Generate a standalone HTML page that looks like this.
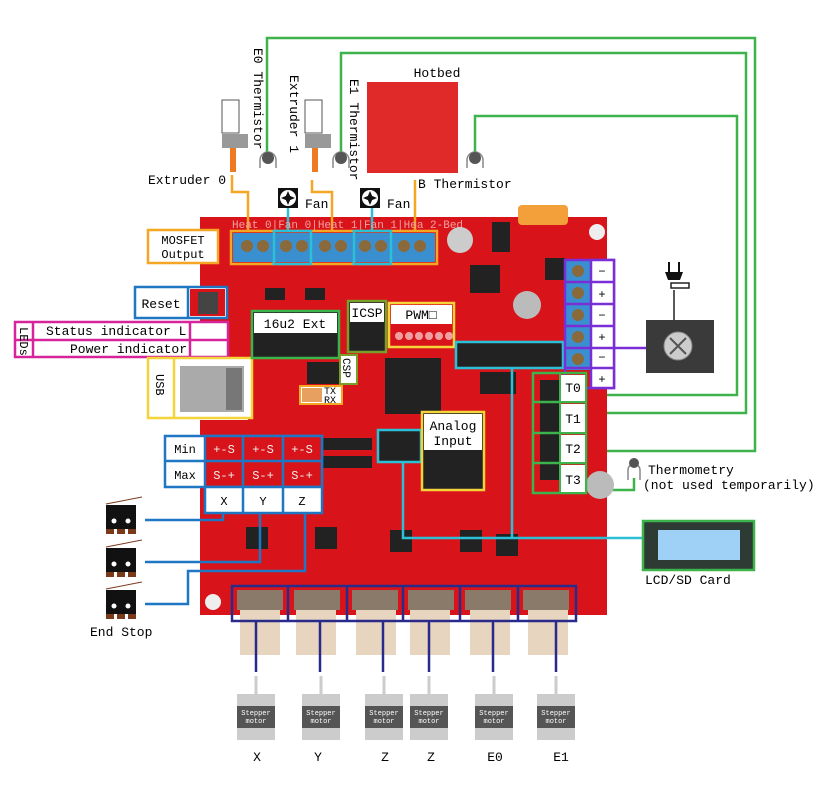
<!DOCTYPE html>
<html><head><meta charset="utf-8"><style>
html,body{margin:0;padding:0;background:#fff;}
svg{display:block;}
text{font-family:"Liberation Mono","DejaVu Sans Mono",monospace;}
</style></head><body>
<svg width="817" height="790" viewBox="0 0 817 790" xmlns="http://www.w3.org/2000/svg">
<rect width="817" height="790" fill="#fff"/>
<!-- green thermistor lines -->
<g stroke="#3cb44b" stroke-width="2.5" fill="none">
<polyline points="267,155 267,38 755,38 755,451 586,451"/>
<polyline points="341,155 341,53 746,53 746,413 586,413"/>
<polyline points="475,155 475,116 737,116 737,395 586,395"/>
<polyline points="586,490 634,490 634,478"/>
</g>
<!-- thermistors -->
<g fill="#555"><path d="M260,168 v-8 a8,8 0 0 1 16,0 v8" stroke="#888" stroke-width="1.5" fill="none"/><circle cx="268" cy="158" r="6"/>
<path d="M333,168 v-8 a8,8 0 0 1 16,0 v8" stroke="#888" stroke-width="1.5" fill="none"/><circle cx="341" cy="158" r="6"/>
<path d="M467,168 v-8 a8,8 0 0 1 16,0 v8" stroke="#888" stroke-width="1.5" fill="none"/><circle cx="475" cy="158" r="6"/>
<path d="M628,480 v-10 a6,6 0 0 1 12,0 v10" stroke="#888" stroke-width="1.5" fill="none"/><circle cx="634" cy="463" r="5"/></g>
<!-- extruders -->
<g><rect x="222" y="100" width="17" height="33" fill="#fff" stroke="#555"/><rect x="222" y="134" width="26" height="14" fill="#999"/><rect x="230" y="148" width="6" height="24" fill="#ee7a24"/>
<rect x="305" y="100" width="17" height="33" fill="#fff" stroke="#555"/><rect x="305" y="134" width="26" height="14" fill="#999"/><rect x="312" y="148" width="6" height="24" fill="#ee7a24"/></g>
<!-- hotbed -->
<rect x="367" y="82" width="91" height="91" fill="#e02a2a"/>
<text x="437" y="77" font-size="13" text-anchor="middle">Hotbed</text>
<text x="148" y="184" font-size="13">Extruder 0</text>
<text x="418" y="188" font-size="13">B Thermistor</text>
<text font-size="13" transform="translate(254,48) rotate(90)">E0 Thermistor</text>
<text font-size="13" transform="translate(290,75) rotate(90)">Extruder 1</text>
<text font-size="13" transform="translate(350,79) rotate(90)">E1 Thermistor</text>
<!-- fans -->
<rect x="278" y="188" width="20" height="20" fill="#111"/><circle cx="288" cy="198" r="8" fill="#fff"/><path d="M288,191 l3,7 l-3,7 l-3,-7z M281,198 l7,-3 l7,3 l-7,3z" fill="#111"/>
<text x="305" y="208" font-size="13">Fan</text>
<rect x="360" y="188" width="20" height="20" fill="#111"/><circle cx="370" cy="198" r="8" fill="#fff"/><path d="M370,191 l3,7 l-3,7 l-3,-7z M363,198 l7,-3 l7,3 l-7,3z" fill="#111"/>
<text x="387" y="208" font-size="13">Fan</text>
<!-- board -->
<path d="M200,217 H607 V615 H200 V420 H248 V360 H200 Z" fill="#d8141a"/>
<rect x="200" y="280" width="30" height="80" fill="#d8141a"/>
<!-- orange lines -->
<g stroke="#f5a623" stroke-width="2.5" fill="none"><polyline points="232,175 232,192 248,192 248,232"/><polyline points="312,180 312,192 332,192 332,232"/><polyline points="415,180 415,232"/></g>
<line x1="288" y1="208" x2="288" y2="232" stroke="#2bc0d6" stroke-width="2.5"/><line x1="372" y1="208" x2="372" y2="232" stroke="#2bc0d6" stroke-width="2.5"/>
<text x="232" y="228" font-size="11" fill="#f4a0a0">Heat 0|Fan 0|Heat 1|Fan 1|Hea 2-Bed</text>
<!-- terminal blocks -->
<rect x="233" y="233" width="202" height="29" fill="#3a8fd0"/>
<g fill="#8a6a3a"><circle cx="247" cy="246" r="6"/><circle cx="263" cy="246" r="6"/><circle cx="286" cy="246" r="6"/><circle cx="302" cy="246" r="6"/><circle cx="325" cy="246" r="6"/><circle cx="341" cy="246" r="6"/><circle cx="365" cy="246" r="6"/><circle cx="381" cy="246" r="6"/><circle cx="404" cy="246" r="6"/><circle cx="420" cy="246" r="6"/></g>
<g fill="none" stroke-width="2.5">
<rect x="231" y="231" width="206" height="33" stroke="#f5a623"/>
<rect x="274" y="231" width="37" height="33" stroke="#2bc0d6"/>
<rect x="354" y="231" width="37" height="33" stroke="#2bc0d6"/>
</g>
<rect x="148" y="230" width="70" height="33" fill="#fff" stroke="#f5a623" stroke-width="2.5"/>
<text x="183" y="244" font-size="12" text-anchor="middle">MOSFET</text><text x="183" y="258" font-size="12" text-anchor="middle">Output</text>
<!-- board details -->
<g fill="#222"><rect x="385" y="358" width="56" height="56"/><rect x="470" y="265" width="30" height="28"/><rect x="312" y="385" width="0" height="0"/><rect x="305" y="288" width="20" height="12"/><rect x="265" y="288" width="20" height="12"/>
<rect x="496" y="534" width="22" height="22"/><rect x="315" y="527" width="22" height="22"/><rect x="246" y="527" width="22" height="22"/><rect x="390" y="530" width="22" height="22"/><rect x="460" y="530" width="22" height="22"/><rect x="480" y="372" width="36" height="22"/><rect x="540" y="380" width="20" height="100"/><rect x="322" y="438" width="50" height="12"/><rect x="322" y="456" width="50" height="12"/><rect x="545" y="258" width="20" height="22"/><rect x="492" y="222" width="18" height="30"/></g>
<circle cx="460" cy="240" r="13" fill="#ccc"/><circle cx="527" cy="305" r="14" fill="#bbb"/><circle cx="600" cy="485" r="14" fill="#bbb"/>
<rect x="518" y="205" width="50" height="20" fill="#f3a03a" rx="4"/>
<circle cx="213" cy="602" r="8" fill="#eee"/><circle cx="597" cy="232" r="8" fill="#eee"/>
<!-- Reset -->
<rect x="135" y="287" width="92" height="31" fill="#fff" stroke="#1f77c4" stroke-width="2.5"/>
<rect x="190" y="289" width="35" height="27" fill="#d8141a"/><rect x="198" y="292" width="20" height="22" fill="#444"/>
<line x1="188" y1="287" x2="188" y2="318" stroke="#1f77c4" stroke-width="2.5"/>
<text x="161" y="308" font-size="13" text-anchor="middle">Reset</text>
<!-- LEDs -->
<rect x="15" y="322" width="213" height="35" fill="#fff" stroke="#d6249a" stroke-width="2.5"/>
<line x1="15" y1="340" x2="228" y2="340" stroke="#d6249a" stroke-width="2.5"/>
<line x1="33" y1="322" x2="33" y2="357" stroke="#d6249a" stroke-width="2.5"/>
<line x1="190" y1="322" x2="190" y2="357" stroke="#d6249a" stroke-width="2.5"/>
<text font-size="12" transform="translate(20,327) rotate(90)">LEDs</text>
<text x="46" y="335" font-size="13">Status indicator L</text>
<text x="70" y="353" font-size="13">Power indicator</text>
<!-- USB -->
<rect x="148" y="358" width="104" height="60" fill="#fff" stroke="#f5d33a" stroke-width="2.5"/>
<line x1="174" y1="358" x2="174" y2="418" stroke="#f5d33a" stroke-width="2.5"/>
<rect x="180" y="366" width="64" height="46" fill="#aaa"/><rect x="226" y="368" width="16" height="42" fill="#777"/>
<text font-size="12" transform="translate(156,374) rotate(90)">USB</text>
<!-- 16u2 -->
<rect x="252" y="311" width="87" height="47" fill="#222" stroke="#3cb44b" stroke-width="2.5"/>
<rect x="254" y="313" width="83" height="20" fill="#fff"/>
<text x="295" y="328" font-size="13" text-anchor="middle">16u2 Ext</text>
<!-- ICSP -->
<rect x="348" y="301" width="38" height="51" fill="#222" stroke="#7a9e2a" stroke-width="2.5"/>
<rect x="350" y="303" width="34" height="19" fill="#fff"/><text x="367" y="317" font-size="13" text-anchor="middle">ICSP</text>
<rect x="307" y="362" width="33" height="22" fill="#222"/>
<rect x="340" y="355" width="17" height="29" fill="#fff" stroke="#7a9e2a" stroke-width="2"/>
<text font-size="11" transform="translate(343,358) rotate(90)">CSP</text>
<!-- TX RX -->
<rect x="300" y="386" width="42" height="18" fill="#fff" stroke="#f5a623" stroke-width="2"/>
<rect x="302" y="388" width="20" height="14" fill="#e8a060"/>
<text x="324" y="394" font-size="10">TX</text><text x="324" y="403" font-size="10">RX</text>
<!-- PWM -->
<rect x="389" y="303" width="65" height="44" fill="#d8141a" stroke="#f5d33a" stroke-width="2.5"/>
<rect x="391" y="305" width="61" height="19" fill="#fff"/><text x="421" y="319" font-size="13" text-anchor="middle">PWM□</text>
<g fill="#f0a0a0"><circle cx="399" cy="336" r="4"/><circle cx="409" cy="336" r="4"/><circle cx="419" cy="336" r="4"/><circle cx="429" cy="336" r="4"/><circle cx="439" cy="336" r="4"/><circle cx="449" cy="336" r="4"/></g>
<!-- cyan -->
<rect x="456" y="342" width="107" height="26" fill="#222" stroke="#2bc0d6" stroke-width="2.5"/>
<rect x="378" y="430" width="43" height="32" fill="#222" stroke="#2bc0d6" stroke-width="2.5"/>
<g stroke="#2bc0d6" stroke-width="2.5" fill="none"><polyline points="512,368 512,538"/><polyline points="403,462 403,538 643,538"/></g>
<!-- Analog -->
<rect x="422" y="412" width="62" height="78" fill="#222" stroke="#f5d33a" stroke-width="2.5"/>
<rect x="424" y="414" width="58" height="36" fill="#fff"/>
<text x="453" y="430" font-size="13" text-anchor="middle">Analog</text><text x="453" y="445" font-size="13" text-anchor="middle">Input</text>
<!-- power terminals -->
<rect x="565" y="260" width="26" height="110" fill="#3a8fd0"/>
<g fill="#8a6a3a"><circle cx="578" cy="271" r="6"/><circle cx="578" cy="293" r="6"/><circle cx="578" cy="315" r="6"/><circle cx="578" cy="337" r="6"/><circle cx="578" cy="359" r="6"/></g>
<rect x="565" y="260" width="49" height="128" fill="none" stroke="#7a2ed6" stroke-width="2.5"/>
<rect x="591" y="260" width="23" height="128" fill="#fff" stroke="#7a2ed6" stroke-width="2.5"/>
<g stroke="#7a2ed6" stroke-width="2.5"><line x1="565" y1="282" x2="614" y2="282"/><line x1="565" y1="304" x2="614" y2="304"/><line x1="565" y1="326" x2="614" y2="326"/><line x1="565" y1="348" x2="614" y2="348"/><line x1="565" y1="368" x2="614" y2="368"/><line x1="614" y1="348" x2="646" y2="348"/></g>
<g font-size="12" text-anchor="middle"><text x="602" y="275">−</text><text x="602" y="298">+</text><text x="602" y="319">−</text><text x="602" y="341">+</text><text x="602" y="361">−</text><text x="602" y="383">+</text></g>
<rect x="646" y="320" width="68" height="53" fill="#3a3a3a"/><circle cx="678" cy="346" r="14" fill="#ccc" stroke="#888"/><path d="M670,338 l16,16 M686,338 l-16,16" stroke="#555" stroke-width="2"/>
<line x1="674" y1="320" x2="674" y2="290" stroke="#222" stroke-width="1.5"/><rect x="671" y="283" width="18" height="5" fill="none" stroke="#222" stroke-width="1.5"/><path d="M665,272 h18 l-3,8 h-12z" fill="#111"/><line x1="669" y1="262" x2="669" y2="272" stroke="#111" stroke-width="2"/><line x1="679" y1="262" x2="679" y2="272" stroke="#111" stroke-width="2"/>
<!-- T0-T3 -->
<g stroke="#3cb44b" stroke-width="2.5"><rect x="533" y="373" width="53" height="120" fill="none"/><line x1="533" y1="402" x2="586" y2="402"/><line x1="533" y1="433" x2="586" y2="433"/><line x1="533" y1="463" x2="586" y2="463"/></g>
<g fill="#fff"><rect x="561" y="375" width="24" height="26"/><rect x="561" y="404" width="24" height="28"/><rect x="561" y="435" width="24" height="27"/><rect x="561" y="465" width="24" height="27"/></g>
<line x1="560" y1="373" x2="560" y2="493" stroke="#3cb44b" stroke-width="2"/>
<g font-size="13" text-anchor="middle"><text x="573" y="392">T0</text><text x="573" y="423">T1</text><text x="573" y="453">T2</text><text x="573" y="484">T3</text></g>
<text x="648" y="474" font-size="13">Thermometry</text>
<text x="643" y="489" font-size="13">(not used temporarily)</text>
<!-- LCD -->
<rect x="643" y="521" width="111" height="49" fill="#2e3a34" stroke="#3cb44b" stroke-width="2.5"/>
<rect x="658" y="530" width="82" height="30" fill="#9fd0f5"/>
<text x="645" y="584" font-size="13">LCD/SD Card</text>
<!-- Min/Max table -->
<g stroke="#1f77c4" stroke-width="2.5">
<rect x="165" y="436" width="157" height="51" fill="#fff"/>
<rect x="205" y="436" width="117" height="51" fill="#d8141a"/>
<rect x="205" y="487" width="117" height="26" fill="#fff"/>
<line x1="165" y1="461" x2="322" y2="461"/><line x1="243" y1="436" x2="243" y2="513"/><line x1="283" y1="436" x2="283" y2="513"/>
</g>
<g font-size="12" text-anchor="middle"><text x="185" y="453">Min</text><text x="185" y="479">Max</text>
<text x="224" y="505">X</text><text x="263" y="505">Y</text><text x="302" y="505">Z</text>
<g fill="#eee"><text x="224" y="453">+-S</text><text x="263" y="453">+-S</text><text x="302" y="453">+-S</text><text x="224" y="479">S-+</text><text x="263" y="479">S-+</text><text x="302" y="479">S-+</text></g></g>
<!-- endstops -->
<g stroke="#1f77c4" stroke-width="2.5" fill="none"><polyline points="145,520 223,520 223,513"/><polyline points="145,562 260,562 260,513"/><polyline points="145,604 188,604 188,571 305,571 305,513"/></g>
<g><path d="M106,505 h30 v24 h-30z" fill="#111"/><path d="M106,529 h8 v5 h-8z M117,529 h8 v5 h-8z M128,529 h8 v5 h-8z" fill="#7a3a1a"/><circle cx="114" cy="521" r="2.5" fill="#fff"/><circle cx="128" cy="521" r="2.5" fill="#fff"/><line x1="106" y1="504" x2="142" y2="497" stroke="#7a3a1a"/>
<path d="M106,548 h30 v24 h-30z" fill="#111"/><path d="M106,572 h8 v5 h-8z M117,572 h8 v5 h-8z M128,572 h8 v5 h-8z" fill="#7a3a1a"/><circle cx="114" cy="564" r="2.5" fill="#fff"/><circle cx="128" cy="564" r="2.5" fill="#fff"/><line x1="106" y1="547" x2="142" y2="540" stroke="#7a3a1a"/>
<path d="M106,590 h30 v24 h-30z" fill="#111"/><path d="M106,614 h8 v5 h-8z M117,614 h8 v5 h-8z M128,614 h8 v5 h-8z" fill="#7a3a1a"/><circle cx="114" cy="606" r="2.5" fill="#fff"/><circle cx="128" cy="606" r="2.5" fill="#fff"/><line x1="106" y1="589" x2="142" y2="582" stroke="#7a3a1a"/></g>
<text x="90" y="636" font-size="13">End Stop</text>
<!-- stepper connectors -->
<g fill="#e8d5c0"><rect x="240" y="610" width="40" height="45"/><rect x="296" y="610" width="40" height="45"/><rect x="356" y="610" width="40" height="45"/><rect x="410" y="610" width="40" height="45"/><rect x="470" y="610" width="40" height="45"/><rect x="528" y="610" width="40" height="45"/></g>
<g fill="#8a7a6a"><rect x="237" y="590" width="46" height="20"/><rect x="294" y="590" width="46" height="20"/><rect x="352" y="590" width="46" height="20"/><rect x="408" y="590" width="46" height="20"/><rect x="465" y="590" width="46" height="20"/><rect x="523" y="590" width="46" height="20"/></g>
<g fill="none" stroke="#2a2a8a" stroke-width="2.5"><rect x="232" y="586" width="344" height="35"/><line x1="288" y1="586" x2="288" y2="621"/><line x1="347" y1="586" x2="347" y2="621"/><line x1="403" y1="586" x2="403" y2="621"/><line x1="460" y1="586" x2="460" y2="621"/><line x1="518" y1="586" x2="518" y2="621"/>
<line x1="256" y1="621" x2="256" y2="672"/><line x1="320" y1="621" x2="320" y2="672"/><line x1="383" y1="621" x2="383" y2="672"/><line x1="429" y1="621" x2="429" y2="672"/><line x1="493" y1="621" x2="493" y2="672"/><line x1="556" y1="621" x2="556" y2="672"/></g>
<!-- steppers -->
<g>
<g transform="translate(256,0)"><rect x="-1.5" y="676" width="3" height="18" fill="#ccc"/><rect x="-19" y="694" width="38" height="46" fill="#ccc"/><rect x="-19" y="706" width="38" height="22" fill="#555"/><text y="715" font-size="7" fill="#fff" text-anchor="middle" font-family="Liberation Sans,sans-serif">Stepper</text><text y="723" font-size="7" fill="#fff" text-anchor="middle" font-family="Liberation Sans,sans-serif">motor</text></g>
<g transform="translate(321,0)"><rect x="-1.5" y="676" width="3" height="18" fill="#ccc"/><rect x="-19" y="694" width="38" height="46" fill="#ccc"/><rect x="-19" y="706" width="38" height="22" fill="#555"/><text y="715" font-size="7" fill="#fff" text-anchor="middle" font-family="Liberation Sans,sans-serif">Stepper</text><text y="723" font-size="7" fill="#fff" text-anchor="middle" font-family="Liberation Sans,sans-serif">motor</text></g>
<g transform="translate(384,0)"><rect x="-1.5" y="676" width="3" height="18" fill="#ccc"/><rect x="-19" y="694" width="38" height="46" fill="#ccc"/><rect x="-19" y="706" width="38" height="22" fill="#555"/><text y="715" font-size="7" fill="#fff" text-anchor="middle" font-family="Liberation Sans,sans-serif">Stepper</text><text y="723" font-size="7" fill="#fff" text-anchor="middle" font-family="Liberation Sans,sans-serif">motor</text></g>
<g transform="translate(429,0)"><rect x="-1.5" y="676" width="3" height="18" fill="#ccc"/><rect x="-19" y="694" width="38" height="46" fill="#ccc"/><rect x="-19" y="706" width="38" height="22" fill="#555"/><text y="715" font-size="7" fill="#fff" text-anchor="middle" font-family="Liberation Sans,sans-serif">Stepper</text><text y="723" font-size="7" fill="#fff" text-anchor="middle" font-family="Liberation Sans,sans-serif">motor</text></g>
<g transform="translate(494,0)"><rect x="-1.5" y="676" width="3" height="18" fill="#ccc"/><rect x="-19" y="694" width="38" height="46" fill="#ccc"/><rect x="-19" y="706" width="38" height="22" fill="#555"/><text y="715" font-size="7" fill="#fff" text-anchor="middle" font-family="Liberation Sans,sans-serif">Stepper</text><text y="723" font-size="7" fill="#fff" text-anchor="middle" font-family="Liberation Sans,sans-serif">motor</text></g>
<g transform="translate(556,0)"><rect x="-1.5" y="676" width="3" height="18" fill="#ccc"/><rect x="-19" y="694" width="38" height="46" fill="#ccc"/><rect x="-19" y="706" width="38" height="22" fill="#555"/><text y="715" font-size="7" fill="#fff" text-anchor="middle" font-family="Liberation Sans,sans-serif">Stepper</text><text y="723" font-size="7" fill="#fff" text-anchor="middle" font-family="Liberation Sans,sans-serif">motor</text></g>
</g>
<g font-size="13" text-anchor="middle"><text x="257" y="761">X</text><text x="318" y="761">Y</text><text x="385" y="761">Z</text><text x="431" y="761">Z</text><text x="495" y="761">E0</text><text x="561" y="761">E1</text></g>
</svg>
</body></html>
